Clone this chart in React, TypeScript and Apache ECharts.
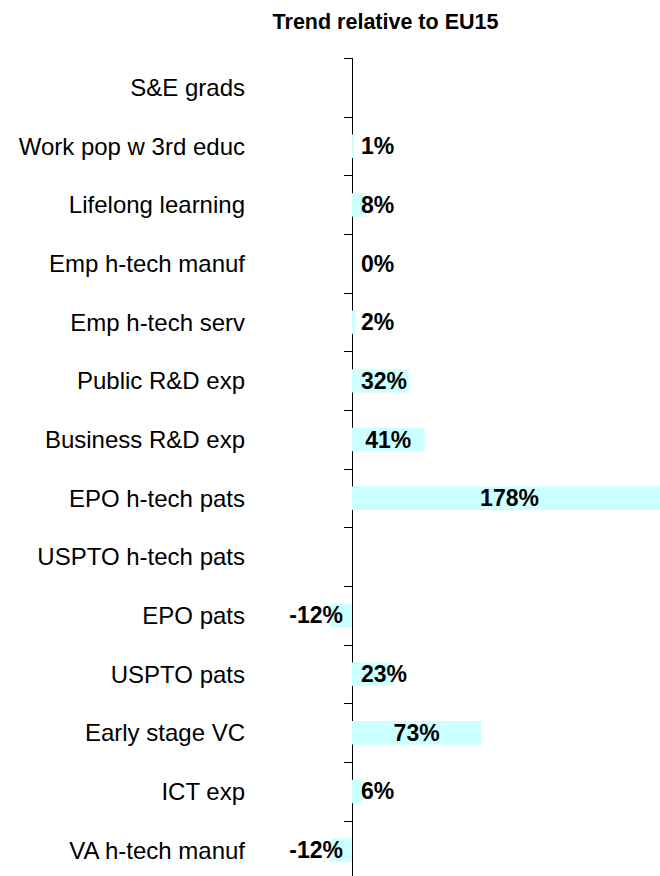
import React, { useEffect, useRef } from "react";
import * as echarts from "echarts";

const titleText = "Trend relative to EU15";

const categories: string[] = [
  "S&E grads",
  "Work pop w 3rd educ",
  "Lifelong learning",
  "Emp h-tech manuf",
  "Emp h-tech serv",
  "Public R&D exp",
  "Business R&D exp",
  "EPO h-tech pats",
  "USPTO h-tech pats",
  "EPO pats",
  "USPTO pats",
  "Early stage VC",
  "ICT exp",
  "VA h-tech manuf",
];

const trendValues: (number | null)[] = [
  null, 1, 8, 0, 2, 32, 41, 178, null, -12, 23, 73, 6, -12,
];

const FONT = "'Liberation Sans', Arial, Helvetica, sans-serif";

export default function App() {
  const ref = useRef<HTMLDivElement>(null);

  useEffect(() => {
    if (!ref.current) return;
    const chart = echarts.init(ref.current, null, { renderer: "svg" });

    const data = trendValues.map((v) => {
      if (v === null) return { value: "-", label: { show: false } };
      const position = v < 0 ? "insideRight" : v >= 40 ? "inside" : "insideLeft";
      return { value: v, label: { show: true, position } };
    });

    chart.setOption({
      animation: false,
      backgroundColor: "#ffffff",
      graphic: [
        {
          type: "text",
          x: 385.5,
          y: 22,
          style: {
            text: titleText,
            fontSize: 21.5,
            fontWeight: "bold",
            fontFamily: FONT,
            fill: "#000",
            align: "center",
            verticalAlign: "middle",
          },
        },
      ],
      grid: {
        left: 316.6,
        top: 58.3,
        width: 389.4,
        height: 821.1,
        containLabel: false,
        outerBoundsMode: "none",
      },
      xAxis: {
        type: "value",
        min: -20,
        max: 200,
        show: false,
        splitLine: { show: false },
      },
      yAxis: {
        type: "category",
        data: categories,
        inverse: true,
        axisLine: {
          show: true,
          onZero: true,
          lineStyle: { color: "#000", width: 1 },
        },
        axisTick: {
          show: true,
          length: 8,
          lineStyle: { color: "#000", width: 1 },
        },
        axisLabel: {
          margin: 71.6,
          fontSize: 24,
          color: "#000",
          fontFamily: FONT,
        },
        splitLine: { show: false },
      },
      series: [
        {
          type: "bar",
          data,
          barWidth: 23.4,
          itemStyle: { color: "#CCFFFF" },
          label: {
            show: true,
            formatter: "{c}%",
            fontSize: 23,
            fontWeight: "bold",
            fontFamily: FONT,
            color: "#000",
            distance: 9,
          },
        },
      ],
    });

    return () => chart.dispose();
  }, []);

  return (
    <div
      style={{
        position: "fixed",
        left: 0,
        top: 0,
        width: 660,
        height: 876,
        overflow: "hidden",
        background: "#fff",
      }}
    >
      <div ref={ref} style={{ width: 720, height: 890 }} />
    </div>
  );
}
